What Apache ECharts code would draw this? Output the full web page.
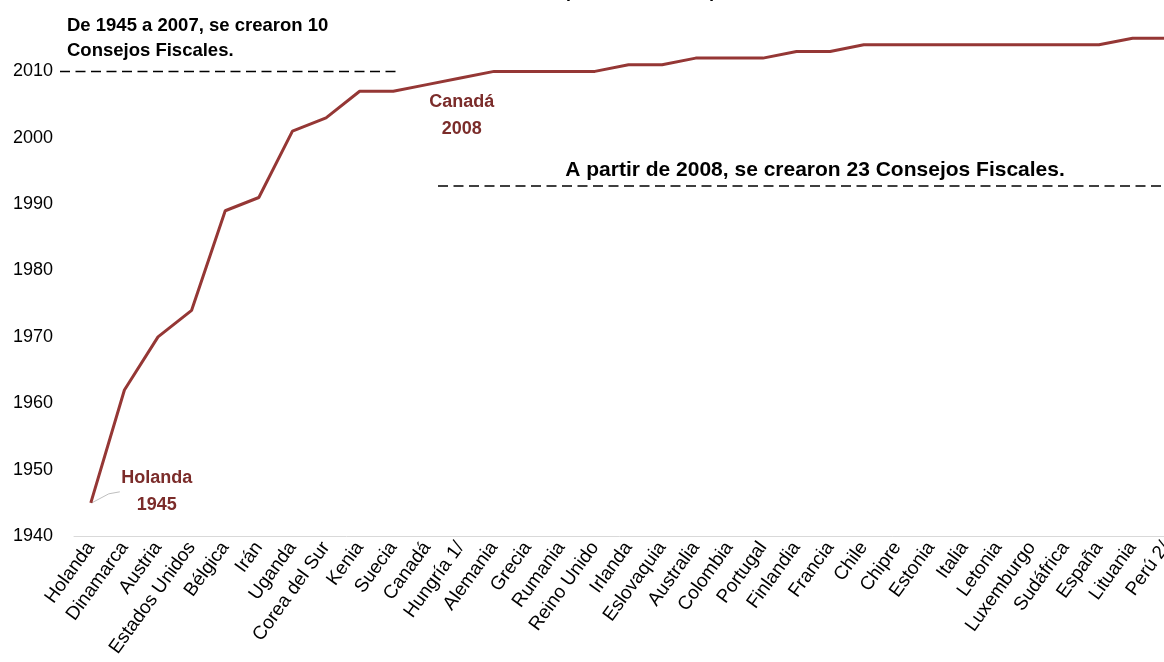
<!DOCTYPE html>
<html><head><meta charset="utf-8">
<script src="https://cdn.jsdelivr.net/npm/echarts@6/dist/echarts.min.js"></script>
<style>html,body{margin:0;padding:0;background:#fff}#c{width:1164px;height:662px}</style>
</head><body><div id="c"></div>
<script>
const categories = ['Holanda','Dinamarca','Austria','Estados Unidos','Bélgica','Irán','Uganda','Corea del Sur','Kenia','Suecia','Canadá','Hungría 1/','Alemania','Grecia','Rumania','Reino Unido','Irlanda','Eslovaquia','Australia','Colombia','Portugal','Finlandia','Francia','Chile','Chipre','Estonia','Italia','Letonia','Luxemburgo','Sudáfrica','España','Lituania','Perú 2/'];
const years = [1945,1962,1970,1974,1989,1991,2001,2003,2007,2007,2008,2009,2010,2010,2010,2010,2011,2011,2012,2012,2012,2013,2013,2014,2014,2014,2014,2014,2014,2014,2014,2015,2015];
const titleText = '(Año de creación)';
const noteBefore = 'De 1945 a 2007, se crearon 10\nConsejos Fiscales.';
const noteAfter = 'A partir de 2008, se crearon 23 Consejos Fiscales.';
const noteYear = 2010;

const FONT = 'Liberation Sans';
const LINE = '#953735', LABEL = '#7B2C2A';

const chart = echarts.init(document.getElementById('c'));
const seriesData = years.map((v, i) => {
  const name = categories[i];
  if (name === 'Holanda') {
    return { value: v, label: { show: true, formatter: name + '\n' + v, position: 'right', align: 'center', offset: [61, -11] } };
  }
  if (name === 'Canadá') {
    return { value: v, label: { show: true, formatter: name + '\n' + v, position: 'bottom', distance: 4, offset: [35, 0] } };
  }
  return v;
});

chart.setOption({
  animation: false,
  backgroundColor: '#fff',
  title: { text: titleText, left: 559, top: -22, textStyle: { fontFamily: FONT, fontSize: 18, fontWeight: 'bold', color: '#000' } },
  grid: { left: 74, right: -19, top: 5, bottom: 126, containLabel: false, outerBoundsMode: 'none' },
  xAxis: {
    type: 'category', data: categories, boundaryGap: true,
    axisLine: { lineStyle: { color: '#D9D9D9', width: 1 } },
    axisTick: { show: false },
    axisLabel: { interval: 0, rotate: 54, margin: 8, fontFamily: FONT, fontSize: 19, color: '#000' }
  },
  yAxis: {
    type: 'value', min: 1940, max: 2020, interval: 10,
    axisLine: { show: false }, axisTick: { show: false }, splitLine: { show: false },
    axisLabel: { showMaxLabel: false, margin: 21, fontFamily: FONT, fontSize: 18, color: '#000', formatter: (v) => String(v) }
  },
  series: [{
    type: 'line', data: seriesData, symbol: 'circle', symbolSize: 0, showSymbol: true,
    lineStyle: { color: LINE, width: 3 }, itemStyle: { color: LINE },
    label: { show: false, fontFamily: FONT, fontSize: 18, fontWeight: 'bold', color: LABEL, lineHeight: 27 }
  }]
});

const yNote = chart.convertToPixel({ yAxisIndex: 0 }, noteYear);
const p0 = chart.convertToPixel({ seriesIndex: 0 }, [categories[0], years[0]]);
chart.setOption({
  graphic: [
    { type: 'polyline', shape: { points: [[p0[0] + 1, p0[1]], [p0[0] + 18, p0[1] - 9], [p0[0] + 29, p0[1] - 11]] }, style: { stroke: '#BFBFBF', lineWidth: 1, fill: null } },
    { type: 'text', left: 67, top: 13, style: { text: noteBefore, font: 'bold 18.5px ' + FONT, fill: '#000', lineHeight: 25 } },
    { type: 'line', shape: { x1: 60, y1: yNote, x2: 400, y2: yNote }, style: { stroke: '#000', lineWidth: 1.5, lineDash: [10, 5.5] } },
    { type: 'text', x: 815, y: 170, style: { text: noteAfter, font: 'bold 21px ' + FONT, fill: '#000', align: 'center', verticalAlign: 'middle' } },
    { type: 'line', shape: { x1: 438, y1: 186, x2: 1170, y2: 186 }, style: { stroke: '#000', lineWidth: 1.5, lineDash: [10, 5.5] } }
  ]
});
</script></body></html>
